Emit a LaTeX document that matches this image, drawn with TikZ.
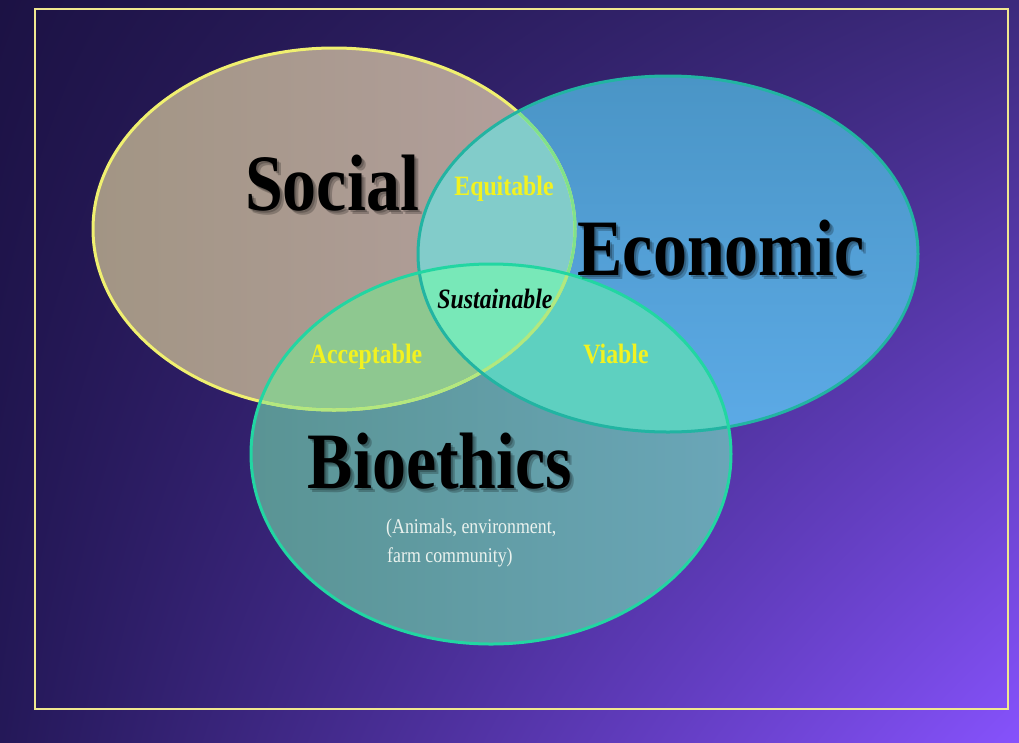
\documentclass[tikz,border=0pt]{standalone}
\usepackage{fontspec}
\setmainfont{Liberation Serif}
\newfontfamily\vennfont[FakeStretch=0.85]{Liberation Serif}
\usetikzlibrary{shadings}

\definecolor{bgTL}{HTML}{1C1244}
\definecolor{bgTR}{HTML}{3C2A7C}
\definecolor{bgBL}{HTML}{241858}
\definecolor{bgBR}{HTML}{8652FC}
\definecolor{framecol}{HTML}{F0E890}
\definecolor{socialA}{HTML}{A29584}
\definecolor{socialB}{HTML}{B4A09E}
\definecolor{econA}{HTML}{4A95C6}
\definecolor{econB}{HTML}{5CAAE6}
\definecolor{bioA}{HTML}{5A9494}
\definecolor{bioB}{HTML}{6AA6B8}
\definecolor{lensSE}{HTML}{82CCCA}
\definecolor{lensSB}{HTML}{8EC890}
\definecolor{lensEB}{HTML}{5ED0C0}
\definecolor{lensAll}{HTML}{78E8B8}
\definecolor{socialline}{HTML}{F0F070}
\definecolor{econline}{HTML}{22B4A2}
\definecolor{bioline}{HTML}{22D6A2}
\definecolor{lensyellow}{HTML}{F2F220}
\definecolor{notecol}{HTML}{EAF2EE}

\newcommand\socialoval{(334,229) ellipse [x radius=241, y radius=181]}
\newcommand\econoval{(668,254) ellipse [x radius=250, y radius=178]}
\newcommand\biooval{(491,454) ellipse [x radius=240, y radius=190]}

\begin{document}
\begin{tikzpicture}[x=1pt, y=-1pt,
  bigword/.style={font=\vennfont\fontsize{80}{80}\selectfont\bfseries, inner sep=0, anchor=base},
  wordshade/.style={text=black, text opacity=.22},
  lensword/.style={font=\vennfont\fontsize{28}{28}\selectfont\bfseries, text=lensyellow, inner sep=0, anchor=base},
  noteword/.style={font=\vennfont\fontsize{21}{21}\selectfont, text=notecol, inner sep=0, anchor=base west}]
% background and frame
\shade[upper left=bgTL, upper right=bgTR, lower left=bgBL, lower right=bgBR] (0,0) rectangle (1019,742);
\draw[framecol, line width=2.2pt] (35,9) rectangle (1008,709);

% the three fields
\shade[left color=socialA, right color=socialB] \socialoval;
\shade[top color=econA, bottom color=econB] \econoval;
\shade[left color=bioA, right color=bioB] \biooval;

% overlaps
\begin{scope}
 \clip \socialoval;
 \fill[lensSE] \econoval;
 \fill[lensSB] \biooval;
 \clip \econoval;
 \fill[lensAll] \biooval;
\end{scope}
\begin{scope}
 \clip \econoval;
 \fill[lensEB] \biooval;
 \clip \socialoval;
 \fill[lensAll] \biooval;
\end{scope}

% outlines
\draw[socialline, line width=3pt] \socialoval;
\begin{scope}
 \clip \econoval;
 \draw[socialline!45!bioline, line width=3pt] \socialoval;
\end{scope}
\begin{scope}
 \clip \biooval;
 \draw[socialline!70!bioline, line width=3pt] \socialoval;
\end{scope}
\draw[econline, line width=3pt] \econoval;
\draw[bioline, line width=3pt] \biooval;

% big words with a soft shadow
\foreach \d in {2,4} {
 \node[bigword, wordshade] at (332+\d,210+\d) {Social};
 \node[bigword, wordshade] at (721+\d,275+\d) {Economic};
 \node[bigword, wordshade] at (440+\d,488+\d) {Bioethics};
}
\node[bigword] (social) at (332,210) {Social};
\node[bigword] (economic) at (721,275) {Economic};
\node[bigword] (bioethics) at (440,488) {Bioethics};

% lens words
\node[lensword] (equitable) at (504,195) {Equitable};
\node[lensword] (acceptable) at (366,363) {Acceptable};
\node[lensword] (viable) at (616,363) {Viable};
\node[lensword, text=black, font=\vennfont\fontsize{28}{28}\selectfont\bfseries\itshape] (sustainable) at (495,308) {Sustainable};

% note under Bioethics
\node[noteword] (note1) at (386,533) {(Animals, environment,};
\node[noteword] (note2) at (387,562) {farm community)};
\end{tikzpicture}
\end{document}
